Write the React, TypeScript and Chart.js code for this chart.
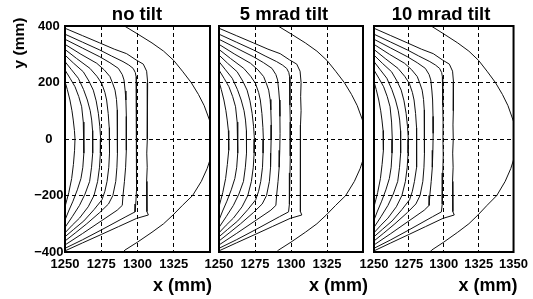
import React, { useEffect, useRef } from 'react';
import { Chart, registerables } from 'chart.js';

Chart.register(...registerables);

// ---- data ----
const X_TICKS = [1250, 1275, 1300, 1325, 1350];
const Y_TICKS = [-400, -200, 0, 200, 400];
const PANEL_TITLES = ['no tilt', '5 mrad tilt', '10 mrad tilt'];
const X_TITLE = 'x (mm)';
const Y_TITLE = 'y (mm)';

const CONTOUR_0 = [[1250, 203], [1251.6, 175], [1253.4, 138], [1254.8, 100], [1255.7, 67], [1256.5, 30], [1256.9, 0], [1256.6, -40], [1255.8, -90], [1254.6, -140], [1252.6, -190], [1251.3, -215], [1250, -240]];
const CONTOUR_1 = [[1250, 244], [1253.5, 215], [1256.9, 185], [1259.5, 150], [1261.5, 114], [1262.6, 60], [1263.1, 0], [1262.9, -50], [1262.3, -100], [1261, -140], [1258.5, -180], [1255.5, -220], [1252.5, -255], [1250, -287]];
const CONTOUR_2 = [[1250, 274], [1254.5, 245], [1259.2, 215], [1262.8, 175], [1265.4, 138], [1267.4, 100], [1268.4, 67], [1269, 30], [1269.2, 0], [1269, -50], [1268.3, -100], [1267, -150], [1263.8, -195], [1260, -235], [1255, -275], [1250, -313]];
const CONTOUR_3 = [[1250, 297], [1256, 268], [1262.6, 238], [1266.5, 205], [1269.5, 173], [1271.5, 135], [1273, 91], [1274, 45], [1274.6, 0], [1274.4, -50], [1273.8, -100], [1272.5, -150], [1270, -200], [1266, -240], [1260, -280], [1255, -305], [1250, -332]];
const CONTOUR_4 = [[1250, 317], [1258, 285], [1267.2, 250], [1272, 222], [1275.3, 197], [1277.5, 165], [1278.7, 138], [1279.8, 90], [1280.5, 40], [1280.8, 0], [1280.6, -50], [1280.2, -100], [1279, -150], [1277.5, -185], [1275.5, -215], [1270, -250], [1263, -290], [1256, -320], [1250, -346]];
const CONTOUR_5 = [[1250, 335], [1261, 300], [1271.9, 268], [1277, 245], [1281, 221], [1283, 195], [1284.5, 173], [1285.5, 140], [1286, 103], [1286.3, 50], [1286.2, 0], [1286, -50], [1285.8, -100], [1285, -150], [1283, -200], [1280, -230], [1274, -260], [1265, -300], [1257, -333], [1250, -361]];
const CONTOUR_6 = [[1250, 353], [1262, 322], [1274, 291], [1281, 270], [1286.8, 250], [1289.5, 228], [1290.7, 209], [1291.5, 170], [1292, 138], [1292.3, 80], [1292.4, 20], [1292.2, -40], [1291.8, -100], [1291, -150], [1290, -200], [1289.5, -235], [1286, -252], [1275, -290], [1262, -335], [1250, -375]];
const CONTOUR_7 = [[1250, 371], [1262, 343], [1274, 315], [1282, 294], [1290, 274], [1294, 262], [1297, 250], [1298.5, 235], [1299, 221], [1299.3, 170], [1299.2, 120], [1299.5, 60], [1299.4, 0], [1299.6, -60], [1299.3, -120], [1299, -180], [1298.8, -230], [1298.3, -258], [1292, -275], [1275, -322], [1262, -357], [1250, -387]];
const CONTOUR_8 = [[1250, 392], [1262, 366], [1274, 340], [1284, 318], [1292.5, 302], [1299, 280], [1304, 265], [1306.3, 240], [1307, 200], [1306.7, 150], [1307, 100], [1306.6, 50], [1306.8, 0], [1306.4, -50], [1306.7, -100], [1306.3, -150], [1306.5, -200], [1306.5, -257], [1307.5, -269], [1299.4, -281], [1287, -310], [1275, -338], [1262, -368], [1250, -396]];
const OUTER = [[1291, 400], [1300, 372], [1310, 340], [1318, 311], [1325, 278], [1331, 240], [1337, 200], [1342, 158], [1346, 118], [1350, 62], [1353, 0], [1350, -74], [1348, -105], [1344, -150], [1338, -200], [1331, -235], [1324.5, -269], [1318, -300], [1310, -330], [1300, -365], [1291.4, -393], [1290, -400]];

const CONTOURS = [CONTOUR_0, CONTOUR_1, CONTOUR_2, CONTOUR_3, CONTOUR_4, CONTOUR_5, CONTOUR_6, CONTOUR_7, CONTOUR_8, OUTER];

// ---- layout ----
const H = 299;
const FONT = '"Liberation Sans", Arial, Helvetica, sans-serif';
const PANELS = [
  { left: 0, width: 240, padL: 0, padR: 30, yAxisW: 65, showY: true, lastLabel: false, titleX: 137, xTitleDx: 2 },
  { left: 190, width: 200, padL: 29, padR: 27, yAxisW: 0, showY: false, lastLabel: false, titleX: 284, xTitleDx: 5 },
  { left: 345, width: 188, padL: 29, padR: 15, yAxisW: 0, showY: false, lastLabel: true, titleX: 441, xTitleDx: 4 },
];

const framePlugin = {
  id: 'frameText',
  afterDatasetsDraw(chart: any, _args: any, opts: any) {
    const { ctx, chartArea: a } = chart;
    ctx.save();
    ctx.setLineDash([]);
    ctx.strokeStyle = '#000';
    ctx.lineWidth = 2;
    ctx.strokeRect(a.left, a.top, a.right - a.left, a.bottom - a.top);
    ctx.fillStyle = '#000';
    // panel title
    ctx.font = `bold 18.5px ${FONT}`;
    ctx.textAlign = 'center';
    ctx.textBaseline = 'alphabetic';
    ctx.fillText(opts.title, opts.titleX - opts.offset, 19.5);
    // x title
    ctx.font = `bold 18px ${FONT}`;
    ctx.textAlign = 'right';
    ctx.fillText(X_TITLE, a.right + opts.xTitleDx, 290.5);
    // y title
    if (opts.showY) {
      ctx.font = `bold 15.5px ${FONT}`;
      ctx.translate(19.5, 43);
      ctx.rotate(-Math.PI / 2);
      ctx.textAlign = 'center';
      ctx.textBaseline = 'middle';
      ctx.fillText(Y_TITLE, 0, 0);
    }
    ctx.restore();
  },
};

function Panel({ index }: { index: number }) {
  const ref = useRef<HTMLCanvasElement | null>(null);
  const p = PANELS[index];
  useEffect(() => {
    if (!ref.current) return;
    const chart = new Chart(ref.current, {
      type: 'scatter',
      data: {
        datasets: CONTOURS.map((c) => ({
          data: c.map(([x, y]) => ({ x, y })),
          showLine: true,
          pointRadius: 0,
          borderColor: '#111',
          borderWidth: 1,
          fill: false,
          tension: 0,
        })),
      },
      options: {
        animation: false,
        responsive: false,
        maintainAspectRatio: false,
        devicePixelRatio: 1,
        layout: { padding: { left: p.padL, right: p.padR, top: 26, bottom: 27 } },
        plugins: {
          legend: { display: false },
          tooltip: { enabled: false },
          title: { display: false },
          frameText: { title: PANEL_TITLES[index], titleX: p.titleX, offset: p.left, showY: p.showY, xTitleDx: p.xTitleDx },
        } as any,
        scales: {
          x: {
            type: 'linear',
            min: X_TICKS[0],
            max: X_TICKS[X_TICKS.length - 1],
            afterBuildTicks: (s: any) => { s.ticks = X_TICKS.map((v) => ({ value: v })); },
            afterFit: (s: any) => { s.height = 20; },
            grid: { color: '#000', lineWidth: 1, drawTicks: false },
            border: { display: false, dash: [4, 3] },
            ticks: {
              autoSkip: false,
              maxRotation: 0,
              padding: 5,
              color: '#000',
              font: { family: FONT, size: 13, weight: 'bold' },
              callback: (v: any) => (!p.lastLabel && v === X_TICKS[X_TICKS.length - 1] ? '' : String(v)),
            },
          },
          y: {
            type: 'linear',
            min: Y_TICKS[0],
            max: Y_TICKS[Y_TICKS.length - 1],
            afterBuildTicks: (s: any) => { s.ticks = Y_TICKS.map((v) => ({ value: v })); },
            afterFit: (s: any) => { s.width = p.yAxisW; },
            grid: { color: '#000', lineWidth: 1, drawTicks: false },
            border: { display: false, dash: [4, 3] },
            ticks: {
              display: p.showY,
              crossAlign: 'center',
              padding: 1.5,
              color: '#000',
              font: { family: FONT, size: 13, weight: 'bold' },
              callback: (v: any) => (v < 0 ? '\u2212' + Math.abs(v) : String(v)),
            },
          },
        },
      } as any,
      plugins: [framePlugin],
    });
    return () => chart.destroy();
  }, [index]);
  return (
    <canvas
      ref={ref}
      width={p.width}
      height={H}
      style={{ position: 'absolute', left: p.left, top: 0, width: p.width, height: H }}
    />
  );
}

export default function App() {
  return (
    <div style={{ position: 'fixed', left: 0, top: 0, width: 533, height: H, background: '#fff', overflow: 'hidden' }}>
      {PANELS.map((_, i) => (
        <Panel key={i} index={i} />
      ))}
    </div>
  );
}
